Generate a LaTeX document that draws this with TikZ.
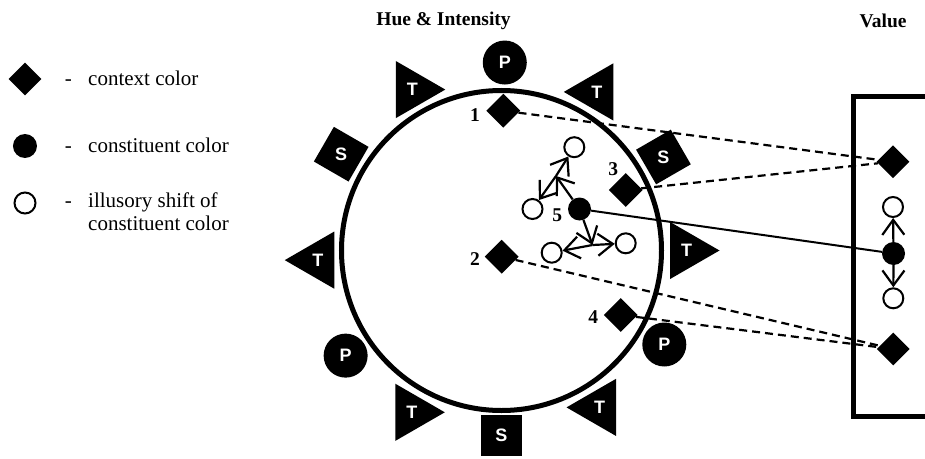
\documentclass[tikz,border=0pt]{standalone}
\usepackage{fontspec}
\setmainfont{Liberation Serif}
\newfontfamily\markfont{Liberation Sans}
\usetikzlibrary{shapes.geometric,arrows.meta}

\begin{document}
\begin{tikzpicture}[
  x=1pt, y=1pt,
  ctx/.style={diamond, fill=black, inner sep=0pt, minimum width=34pt, minimum height=34pt},
  con/.style={circle, fill=black, inner sep=0pt, minimum size=23pt},
  ill/.style={circle, draw, fill=white, line width=2pt, inner sep=0pt, minimum size=20pt},
  ringmark/.style={fill=black, text=white, inner sep=0pt, font=\markfont\bfseries\fontsize{18}{18}\selectfont},
  pmark/.style={ringmark, circle, minimum size=44pt},
  smark/.style={ringmark, regular polygon, regular polygon sides=4, minimum size=56.6pt},
  tmark/.style={ringmark, regular polygon, regular polygon sides=3, minimum size=66pt},
  num/.style={inner sep=0pt, font=\bfseries\fontsize{19.5}{20}\selectfont},
  key/.style={inner sep=0pt, font=\fontsize{21}{24}\selectfont},
  title/.style={inner sep=0pt, font=\bfseries\fontsize{19.5}{20}\selectfont},
  dline/.style={dash pattern=on 8pt off 5pt, line width=2.2pt},
  arr/.style={-{Straight Barb[length=15pt 0 0,width=22pt 0 0]}, line width=2.2pt}
]
  \useasboundingbox (-501.5,-207.5) rectangle (423.5,250.5);

  % legend
  \node[ctx, minimum width=33pt, minimum height=33pt] (kctx) at (-476.5,171.5) {};
  \node[con, minimum size=24pt] (kcon) at (-476.5,104.5) {};
  \node[ill, minimum size=21pt] (kill) at (-476.5,47.5) {};
  \node[key, anchor=base] (kdash1) at (-433,164.5) {-};
  \node[key, anchor=base] (kdash2) at (-433,98.5) {-};
  \node[key, anchor=base] (kdash3) at (-433,43.5) {-};
  \node[key, anchor=base west] (ktxt1) at (-413.5,164.5) {context color};
  \node[key, anchor=base west] (ktxt2) at (-413.5,98.5) {constituent color};
  \node[key, anchor=base west] (ktxt3) at (-413.5,43.5) {illusory shift of};
  \node[key, anchor=base west] (ktxt4) at (-413.5,20.5) {constituent color};

  % titles
  \node[title] (thue) at (-58,229.5) {Hue \& Intensity};
  \node[title] (tval) at (381.5,229.5) {Value};

  % hue circle
  \node[circle, draw, line width=5pt, inner sep=0pt, minimum size=320pt] (hue) at (0,0) {};

  \node[tmark, shape border rotate=-90] (t0) at (0:185) {T};
  \node[smark, shape border rotate=30] (s30) at (30:187) {S};
  \node[tmark, shape border rotate=90] (t60) at (59:185) {T};
  \node[pmark] (p90) at (89:188) {P};
  \node[tmark, shape border rotate=-90] (t120) at (119:184) {T};
  \node[smark, shape border rotate=60] (s150) at (149:187) {S};
  \node[tmark, shape border rotate=90] (t180) at (183:184) {T};
  \node[pmark] (p210) at (214:188) {P};
  \node[tmark, shape border rotate=-90] (t240) at (241:185) {T};
  \node[smark] (s270) at (270:185) {S};
  \node[tmark, shape border rotate=90] (t300) at (302:185) {T};
  \node[pmark] (p330) at (330:188) {P};

  % value bar
  \draw[line width=5pt] (440,153.8) -- (351.5,153.8) -- (351.5,-166.2) -- (440,-166.2);

  \node[ctx] (d1) at (1.8,139.8) {};
  \node[ctx] (d2) at (0.2,-6.2) {};
  \node[ctx] (d3) at (124.2,60.5) {};
  \node[ctx] (d4) at (119.2,-64.5) {};
  \node[num] (n1) at (-26.5,135.5) {1};
  \node[num] (n2) at (-26.5,-8.5) {2};
  \node[num] (n3) at (111.8,81.2) {3};
  \node[num] (n4) at (91.8,-66.2) {4};
  \node[num] (n5) at (55.8,35.5) {5};

  \node[con] (c5) at (78,41.5) {};
  \node[ill] (s1) at (72.8,103.3) {};
  \node[ill] (s2) at (31,41.5) {};
  \node[ill] (s3) at (50.2,-2.2) {};
  \node[ill] (s4) at (124.2,7.2) {};
  \coordinate (j1) at (54.5,74.5);
  \coordinate (j2) at (91,5.5);

  \node[ctx, minimum width=33pt, minimum height=33pt] (vd1) at (391.5,88.8) {};
  \node[ill] (vs1) at (391.5,43.5) {};
  \node[con] (vc) at (392,-3) {};
  \node[ill] (vs2) at (391.8,-47.8) {};
  \node[ctx, minimum width=33pt, minimum height=33pt] (vd2) at (391.8,-98.5) {};

  \draw[dline] (d1) -- (vd1);
  \draw[dline] (d3) -- (vd1);
  \draw[dline] (d2) -- (vd2);
  \draw[dline] (d4) -- (vd2);
  \draw[line width=2pt] (c5) -- (vc);

  \draw[arr] (c5) -- (j1);
  \draw[arr] (j1) -- (s1);
  \draw[arr] (j1) -- (s2);
  \draw[arr] (c5) -- (j2);
  \draw[arr] (j2) -- (s3);
  \draw[arr] (j2) -- (s4);
  \draw[arr] (vc) -- (vs1);
  \draw[arr] (vc) -- (vs2);
\end{tikzpicture}
\end{document}
